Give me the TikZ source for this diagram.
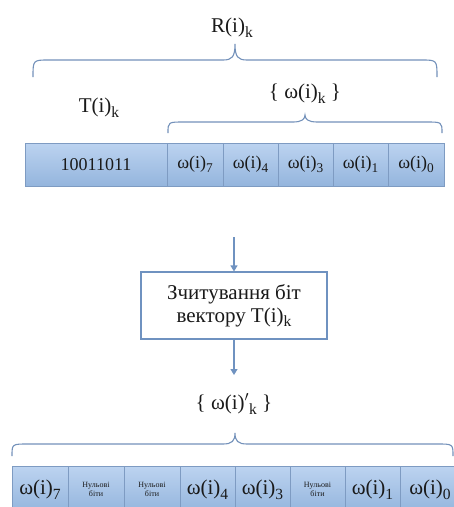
\documentclass[tikz,border=0pt]{standalone}
\usepackage{fontspec}
\setmainfont{Liberation Serif}
\usetikzlibrary{arrows.meta}
\definecolor{cellline}{HTML}{7E9BC2}
\definecolor{celltop}{HTML}{BCD3F0}
\definecolor{cellbot}{HTML}{94B5DD}
\definecolor{bracec}{HTML}{7391BA}
\definecolor{arrowc}{HTML}{6F92C0}
\definecolor{txt}{HTML}{1A1A1A}
% lowered index, a bit larger than a usual subscript
\newcommand{\idx}[1]{\raisebox{-0.5ex}{\scalebox{0.74}{#1}}}
\newcommand{\om}[1]{ω(i)\idx{#1}}
\begin{document}
\begin{tikzpicture}[x=1pt,y=-1pt,
  cell/.style={draw=cellline, line width=0.9pt, top color=celltop, bottom color=cellbot,
    minimum height=43pt, inner sep=0pt, text=txt, font=\fontsize{18}{20}\selectfont},
  lowcell/.style={cell, minimum height=46pt, anchor=north, font=\fontsize{21}{23}\selectfont},
  zerobits/.style={font=\fontsize{8}{8.5}\selectfont, align=center},
  bracepath/.style={draw=bracec, line width=1.1pt},
  flow/.style={draw=arrowc, line width=1.1pt, -{Triangle[width=7pt,length=6pt]}},
  label/.style={text=txt, font=\fontsize{21}{23}\selectfont, inner sep=0pt}]
\useasboundingbox (0,0) rectangle (454,507);

% braces: ends, horizontal level, cusp
\newcommand{\hbrace}[6]{% x1, x2, yend, ylevel, xmid, ycusp
  \draw[bracepath] (#1,#3) .. controls (#1,#4) .. (#1+16,#4) -- (#5-12,#4)
    .. controls (#5-3,#4) and (#5,#4-3) .. (#5,#6)
    .. controls (#5,#4-3) and (#5+3,#4) .. (#5+12,#4) -- (#2-16,#4)
    .. controls (#2,#4) .. (#2,#3);}

% upper brace R(i)_k
\node[label] (R) at (232,28) {R(i)\idx{k}};
\hbrace{33}{437}{77}{60}{235}{44}

% labels above the row
\node[label] (T) at (99,108) {T(i)\idx{k}};
\node[label] (W) at (305,94) {\{ ω(i)\idx{k} \}};
\hbrace{168}{442}{133}{122}{305}{115}

% upper row of cells
\node[cell, minimum width=142pt] (c0) at (96,164.5) {10011011};
\node[cell, minimum width=56pt] (c1) at (195,164.5) {\om{7}};
\node[cell, minimum width=55pt] (c2) at (250.5,164.5) {\om{4}};
\node[cell, minimum width=55pt] (c3) at (305.5,164.5) {\om{3}};
\node[cell, minimum width=55pt] (c4) at (360.5,164.5) {\om{1}};
\node[cell, minimum width=56pt] (c5) at (416,164.5) {\om{0}};

% processing step
\coordinate (a0) at (234,237);
\node[draw=arrowc, line width=1.1pt, fill=white, minimum width=186pt, minimum height=67pt,
  align=center, text=txt, font=\fontsize{21}{23}\selectfont, inner sep=0pt]
  (step1) at (234,305.5) {Зчитування біт\\вектору T(i)\idx{k}};
\coordinate (a1) at (234,375);
\draw[flow] (a0) -- (step1.north);
\draw[flow] (step1.south) -- (a1);

% lower brace
\node[label] (W2) at (234,404) {\{ ω(i)$'$\idx{k} \}};
\hbrace{12}{453}{456}{444}{235}{433}

% lower row of cells
\node[lowcell, minimum width=56pt] (d0) at (40,466) {\om{7}};
\node[lowcell, zerobits, minimum width=56pt] (d1) at (96,466) {Нульові\\біти};
\node[lowcell, zerobits, minimum width=56pt] (d2) at (152,466) {Нульові\\біти};
\node[lowcell, minimum width=55pt] (d3) at (207.5,466) {\om{4}};
\node[lowcell, minimum width=55pt] (d4) at (262.5,466) {\om{3}};
\node[lowcell, zerobits, minimum width=55pt] (d5) at (317.5,466) {Нульові\\біти};
\node[lowcell, minimum width=55pt] (d6) at (372.5,466) {\om{1}};
\node[lowcell, minimum width=60pt] (d7) at (430,466) {\om{0}};
\end{tikzpicture}
\end{document}
